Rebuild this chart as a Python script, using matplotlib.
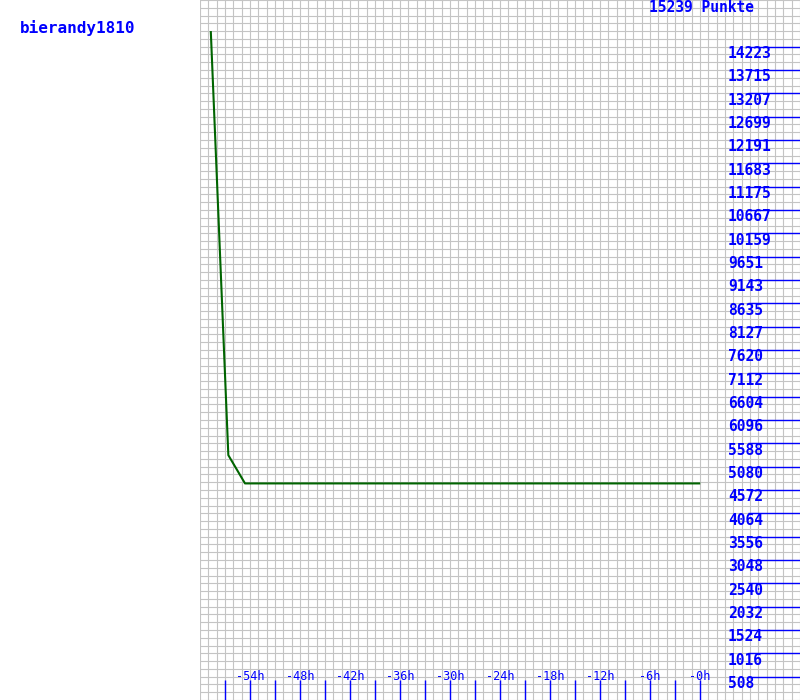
import matplotlib
matplotlib.use('Agg')
import matplotlib.pyplot as plt
import numpy as np

name = 'bierandy1810'
total = 15239
title = '15239 Punkte'

# points over time (hours before now)
hours = [-58.7, -56.6, -54.6, -0.1]
points = [14540, 5330, 4715, 4715]

xlabels = ['-54h', '-48h', '-42h', '-36h', '-30h', '-24h', '-18h', '-12h', '-6h', '-0h']
xlabel_pos = [-54, -48, -42, -36, -30, -24, -18, -12, -6, 0]
ylabels = [round(k * total / 30) for k in range(1, 29)]

blue = '#0000ff'
green = '#006400'

fig = plt.figure(figsize=(8, 7), dpi=100)
ax = fig.add_axes([0.25, 0, 0.75, 1])
ax.set_xlim(-60, 12)
ax.set_ylim(0, total)
for s in ax.spines.values():
    s.set_visible(False)
ax.set_xticks([])
ax.set_yticks([])

# grid
for h in range(-60, 13):
    ax.axvline(h, color='#c4c4c4', lw=0.8, zorder=1)
for k in range(91):
    ax.axhline(k * total / 90, color='#c4c4c4', lw=0.8, zorder=1)

# right side value lines and labels
ax.hlines(ylabels, 0.913, 1.0, transform=ax.get_yaxis_transform(), color=blue, lw=1, zorder=3)
for v in ylabels:
    ax.annotate(str(v), xy=(0.88, v), xycoords=ax.get_yaxis_transform(),
                xytext=(0, -5), textcoords='offset points',
                ha='left', va='center', color=blue, fontsize=10.5,
                family='DejaVu Sans Mono', fontweight='bold', zorder=4)

# bottom ticks
ax.vlines(np.arange(-57, 1, 3), 0, 20 / 700, transform=ax.get_xaxis_transform(), color=blue, lw=1, zorder=3)
for p, lab in zip(xlabel_pos, xlabels):
    ax.text(p, 23 / 700, lab, transform=ax.get_xaxis_transform(), ha='center', va='center',
            color=blue, fontsize=8.5, family='DejaVu Sans Mono', zorder=4)

ax.plot(hours, points, color=green, lw=1.5, zorder=5)

fig.text(649 / 800, 1 - 8 / 700, title, ha='left', va='center', color=blue,
         fontsize=10.5, family='DejaVu Sans Mono', fontweight='bold')
fig.text(20 / 800, 1 - 28 / 700, name, ha='left', va='center', color=blue,
         fontsize=11.5, family='DejaVu Sans Mono', fontweight='bold')

fig.savefig('out.png', dpi=100)
